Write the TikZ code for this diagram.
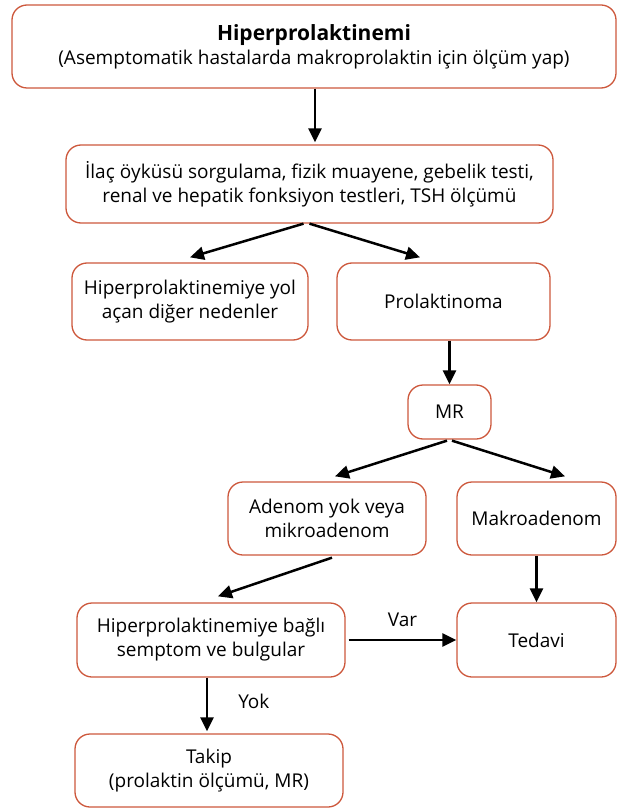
\documentclass[tikz,border=0pt]{standalone}
\usepackage{fontspec}
\setmainfont{Open Sans}
\usetikzlibrary{arrows.meta,calc}
\definecolor{boxred}{RGB}{205,88,60}
\tikzset{
  box/.style={draw=boxred, line width=1.3pt, rounded corners=15pt, fill=white,
    align=center, inner sep=0pt, font=\fontsize{19}{24}\selectfont},
  arr/.style={draw=black, line width=2.5pt, -{Triangle[length=14pt,width=13pt]}},
  lbl/.style={font=\fontsize{19}{24}\selectfont, inner sep=0pt}
}
\begin{document}
\begin{tikzpicture}[x=1pt,y=-1pt]
\useasboundingbox (0,0) rectangle (626,810);
\node[box, minimum width=604pt, minimum height=83pt] (b1) at (314,46.5)
  {{\fontsize{21}{24}\selectfont\bfseries Hiperprolaktinemi}\\(Asemptomatik hastalarda makroprolaktin için ölçüm yap)};
\node[box, minimum width=487pt, minimum height=78pt] (b2) at (309.5,184)
  {İlaç öyküsü sorgulama, fizik muayene, gebelik testi,\\renal ve hepatik fonksiyon testleri, TSH ölçümü};
\node[box, minimum width=236pt, minimum height=77pt] (b3) at (190,301.5)
  {Hiperprolaktinemiye yol\\açan diğer nedenler};
\node[box, minimum width=213pt, minimum height=77pt] (b4) at (443.5,301.5) {Prolaktinoma};
\node[box, minimum width=83pt, minimum height=54pt] (mr) at (449.5,412) {MR};
\node[box, minimum width=198pt, minimum height=73pt] (b6) at (327,518.5)
  {Adenom yok veya\\mikroadenom};
\node[box, minimum width=159pt, minimum height=73pt] (b7) at (536.5,518.5) {Makroadenom};
\node[box, minimum width=268pt, minimum height=74pt] (b8) at (211,640)
  {Hiperprolaktinemiye bağlı\\semptom ve bulgular};
\node[box, minimum width=159pt, minimum height=74pt] (b9) at (536.5,640) {Tedavi};
\node[box, minimum width=268pt, minimum height=73pt] (b10) at (209,770.5)
  {Takip\\(prolaktin ölçümü, MR)};

\draw[arr] ($(b1.south)+(1,0)$) -- ($(b2.north)+(5.5,-2)$);
\draw[arr] ($(b2.south)+(-6,0)$) -- ($(b3.north)+(0,-5)$);
\draw[arr] ($(b2.south)+(0,0)$) -- ($(b4.north)+(-23.5,-5)$);
\draw[arr] (mr.north |- b4.south) -- (mr.north);
\draw[arr] ($(mr.south)+(-2.5,1)$) -- ($(b6.north)+(8,-5)$);
\draw[arr] ($(mr.south)+(2.5,1)$) -- ($(b7.north)+(28.5,-5)$);
\draw[arr] ($(b6.south)+(5,2)$) -- ($(b8.north)+(7,-6)$);
\draw[arr] (b7.south) -- (b9.north);
\draw[arr] ($(b8.east)+(3,0)$) -- (b9.west) node[lbl, pos=0.5, above=12pt] (var) {Var};
\draw[arr] ($(b8.south)+(-4,0)$) -- ($(b10.north)+(-2,-2)$) node[lbl, pos=0.45, right=30pt] (yok) {Yok};
\end{tikzpicture}
\end{document}
